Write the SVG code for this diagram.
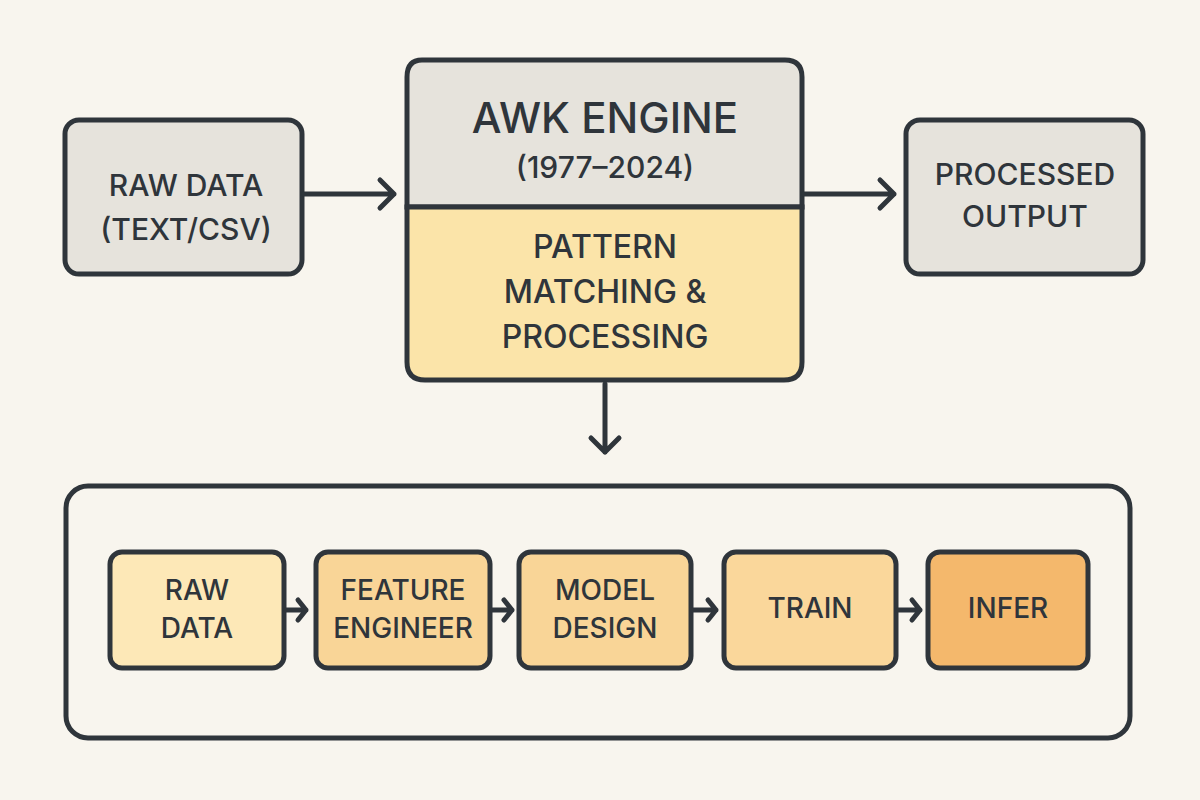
<svg xmlns="http://www.w3.org/2000/svg" width="1200" height="800" viewBox="0 0 1200 800">
<defs>
<style>
.b{stroke:#2f353b;stroke-width:5;}
.t{font-family:Inter,"Noto Sans",sans-serif;fill:#2f353b;text-anchor:middle;font-weight:500;}
.c{stroke:#2f353b;stroke-width:5;fill:none;stroke-linecap:round;stroke-linejoin:round;}
</style>
</defs>
<rect width="1200" height="800" fill="#f8f5ee"/>
<g id="raw"><rect class="b" x="65" y="120" width="237" height="154" rx="14" fill="#e6e3dc"/>
<text class="t" x="186" y="196" font-size="30">RAW DATA</text><text class="t" x="186" y="240" font-size="30">(TEXT/CSV)</text></g>
<g id="awk"><path class="b" d="M422,60 H785 Q802,60 802,77 V207 H407 V77 Q407,60 422,60Z" fill="#e6e3dc"/>
<path class="b" d="M407,207 H802 V362 Q802,380 784,380 H425 Q407,380 407,362Z" fill="#fbe4a9"/>
<text class="t" x="605" y="133" font-size="42" font-weight="700">AWK ENGINE</text>
<text class="t" x="605" y="178" font-size="30">(1977–2024)</text>
<text class="t" x="605" y="258" font-size="32">PATTERN</text><text class="t" x="605" y="303" font-size="32">MATCHING &amp;</text><text class="t" x="605" y="348" font-size="32">PROCESSING</text></g>
<g id="out"><rect class="b" x="906" y="120" width="237" height="154" rx="14" fill="#e6e3dc"/>
<text class="t" x="1025" y="185" font-size="30">PROCESSED</text><text class="t" x="1025" y="227" font-size="30">OUTPUT</text></g>
<g id="pipeline"><rect class="b" x="66" y="486" width="1064" height="252" rx="22" fill="none"/></g>
<g id="s1"><rect class="b" x="110" y="552" width="174" height="116" rx="12" fill="#fde8b7"/><text class="t" x="197" y="600" font-size="28">RAW</text><text class="t" x="197" y="638" font-size="28">DATA</text></g>
<g id="s2"><rect class="b" x="316" y="552" width="174" height="116" rx="12" fill="#f9d597"/><text class="t" x="403" y="600" font-size="28">FEATURE</text><text class="t" x="403" y="638" font-size="28">ENGINEER</text></g>
<g id="s3"><rect class="b" x="519" y="552" width="172" height="116" rx="12" fill="#f9d597"/><text class="t" x="605" y="600" font-size="28">MODEL</text><text class="t" x="605" y="638" font-size="28">DESIGN</text></g>
<g id="s4"><rect class="b" x="724" y="552" width="172" height="116" rx="12" fill="#fad79b"/><text class="t" x="810" y="618" font-size="28">TRAIN</text></g>
<g id="s5"><rect class="b" x="928" y="552" width="160" height="116" rx="12" fill="#f4b86c"/><text class="t" x="1008" y="618" font-size="28">INFER</text></g>
<g id="connectors">
<path class="c" d="M304,194 H394 M380,180 L394,194 L380,208"/>
<path class="c" d="M804,194 H894 M880,180 L894,194 L880,208"/>
<path class="c" d="M605,384 V452 M591,438 L605,452 L619,438"/>
<path class="c" d="M286,610 H306 M298,600 L306,610 L298,620"/>
<path class="c" d="M492,610 H512 M504,600 L512,610 L504,620"/>
<path class="c" d="M693,610 H716 M708,600 L716,610 L708,620"/>
<path class="c" d="M898,610 H920 M912,600 L920,610 L912,620"/>
</g>
</svg>
